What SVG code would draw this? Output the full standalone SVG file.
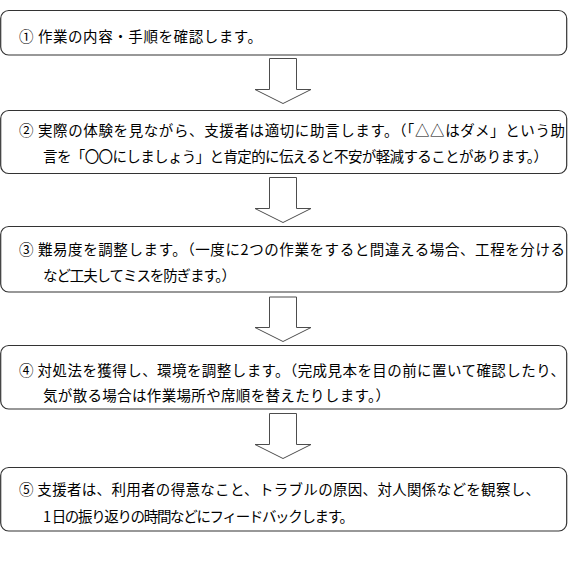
<svg xmlns="http://www.w3.org/2000/svg" width="569" height="576" viewBox="0 0 569 576">
<style>
.box{fill:#ffffff;stroke:#333333;stroke-width:1.2}
.arr{fill:#ffffff;stroke:#4d4d4d;stroke-width:1}
.t{font-family:"Noto Sans CJK JP","Noto Sans",sans-serif;font-size:14.5px;fill:#000000}
</style>
<rect width="569" height="576" fill="#ffffff"/>
<g id="connectors">
<path class="arr" d="M269.5,58.5 H296.5 V89.5 H311 L283,103.5 L255,89.5 H269.5 Z"/>
<path class="arr" d="M269.5,177.5 H296.5 V208.5 H311 L283,222.5 L255,208.5 H269.5 Z"/>
<path class="arr" d="M269.5,297 H296.5 V327.5 H311 L283,341.5 L255,327.5 H269.5 Z"/>
<path class="arr" d="M269.5,413.5 H296.5 V444.5 H311 L283,458.5 L255,444.5 H269.5 Z"/>
</g>
<g id="node1">
<rect class="box" x="0.7" y="10.5" width="566" height="44.5" rx="8"/>
<text class="t" x="19" y="42" textLength="243" lengthAdjust="spacing">① 作業の内容・手順を確認します。</text>
</g>
<g id="node2">
<rect class="box" x="0.7" y="110.5" width="566" height="63" rx="8"/>
<text class="t" x="19" y="136" textLength="546" lengthAdjust="spacing">② 実際の体験を見ながら、支援者は適切に助言します。（「△△はダメ」という助</text>
<text class="t" x="43" y="162" textLength="505" lengthAdjust="spacing">言を「〇〇にしましょう」と肯定的に伝えると不安が軽減することがあります。）</text>
</g>
<g id="node3">
<rect class="box" x="0.7" y="226.5" width="566" height="65.5" rx="8"/>
<text class="t" x="19" y="255" textLength="546" lengthAdjust="spacing">③ 難易度を調整します。（一度に2つの作業をすると間違える場合、工程を分ける</text>
<text class="t" x="43" y="281" textLength="193" lengthAdjust="spacing">など工夫してミスを防ぎます。）</text>
</g>
<g id="node4">
<rect class="box" x="0.7" y="345.5" width="566" height="63.5" rx="8"/>
<text class="t" x="19" y="376" textLength="546" lengthAdjust="spacing">④ 対処法を獲得し、環境を調整します。（完成見本を目の前に置いて確認したり、</text>
<text class="t" x="43" y="401" textLength="347" lengthAdjust="spacing">気が散る場合は作業場所や席順を替えたりします。）</text>
</g>
<g id="node5">
<rect class="box" x="0.7" y="467.5" width="566" height="63.5" rx="8"/>
<text class="t" x="19" y="495" textLength="521" lengthAdjust="spacing">⑤ 支援者は、利用者の得意なこと、トラブルの原因、対人関係などを観察し、</text>
<text class="t" x="43" y="522" textLength="311" lengthAdjust="spacing">1 日の振り返りの時間などにフィードバックします。</text>
</g>
</svg>
